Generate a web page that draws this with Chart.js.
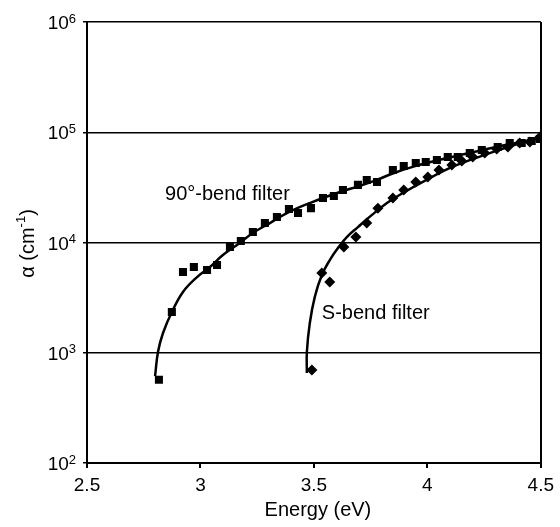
<!DOCTYPE html>
<html>
<head>
<meta charset="utf-8">
<script src="https://cdn.jsdelivr.net/npm/chart.js@4/dist/chart.umd.min.js"></script>
<style>
  body { margin: 0; background: #fff; }
</style>
</head>
<body>
<canvas id="grafico" width="560" height="527"></canvas>
<script>
// measured points, 90-degree bend filter
const bend90Energy = [2.817, 2.874, 2.923, 2.971, 3.029, 3.073, 3.13, 3.178, 3.231, 3.284, 3.337, 3.39, 3.43, 3.487, 3.54, 3.588, 3.628, 3.694, 3.733, 3.778, 3.848, 3.896, 3.949, 3.993, 4.042, 4.09, 4.134, 4.187, 4.24, 4.31, 4.363, 4.416, 4.46, 4.496];
const bend90Alpha = [570, 2340, 5400, 6000, 5640, 6250, 9100, 10300, 12450, 15000, 17000, 20100, 18500, 20500, 25300, 26400, 29900, 33300, 36900, 35400, 45500, 49500, 52600, 53700, 56000, 59700, 59700, 64900, 69000, 73500, 80000, 80000, 83400, 86900];

// measured points, S-bend filter
const sBendEnergy = [3.491, 3.535, 3.57, 3.632, 3.685, 3.733, 3.782, 3.848, 3.896, 3.949, 4.002, 4.051, 4.108, 4.152, 4.2, 4.253, 4.306, 4.355, 4.407, 4.452, 4.496];
const sBendAlpha = [697, 5280, 4380, 9100, 11200, 15000, 20500, 25300, 29900, 35400, 39300, 45500, 50400, 54800, 59700, 64900, 70500, 73500, 80000, 81700, 90600];

// fitted curves
const fit90Energy = [2.800, 2.813, 2.835, 2.874, 2.923, 2.985, 3.042, 3.099, 3.161, 3.231, 3.306, 3.381, 3.482, 3.615, 3.70, 3.778, 3.85, 3.95, 4.05, 4.15, 4.25, 4.35, 4.496];
const fit90Alpha = [615, 1020, 1510, 2340, 3560, 4860, 6000, 7700, 9500, 12200, 15000, 18500, 22800, 28700, 32500, 37000, 42500, 49500, 56000, 62500, 69500, 77000, 88000];
const fitSEnergy = [3.469, 3.469, 3.482, 3.504, 3.535, 3.570, 3.606, 3.645, 3.694, 3.756, 3.822, 3.892, 3.98, 4.1, 4.2, 4.3, 4.4, 4.496];
const fitSAlpha = [655, 1015, 1860, 3210, 5070, 6930, 8910, 11200, 13800, 17800, 22800, 28100, 35500, 47500, 57000, 67500, 78500, 90000];

// axes
const xTicks = [2.5, 3, 3.5, 4, 4.5];
const yTicks = [1e2, 1e3, 1e4, 1e5, 1e6];

const FONT = '"Liberation Sans", Arial, sans-serif';

const pares = (xs, ys) => xs.map((x, i) => ({ x, y: ys[i] }));

// text the library cannot do itself: superscripts and curve labels
const textos = {
  id: 'textos',
  afterDraw(chart) {
    const { ctx, scales: { x, y } } = chart;
    ctx.save();
    ctx.fillStyle = '#000';
    ctx.textBaseline = 'alphabetic';

    // y tick labels 10^n
    yTicks.forEach(v => {
      const py = y.getPixelForValue(v);
      const exp = String(Math.round(Math.log10(v)));
      ctx.textAlign = 'right';
      ctx.font = '13px ' + FONT;
      const supW = ctx.measureText(exp).width;
      const right = y.right - 11;
      ctx.fillText(exp, right, py + 0.5);
      ctx.font = '19px ' + FONT;
      ctx.fillText('10', right - supW, py + 7);
    });

    // y title: α (cm-1)
    ctx.save();
    ctx.translate(27, (y.top + y.bottom) / 2 + 1);
    ctx.rotate(-Math.PI / 2);
    ctx.textAlign = 'left';
    ctx.font = '20px ' + FONT;
    const a = 'α (cm', c = ')';
    const wa = ctx.measureText(a).width, wc = ctx.measureText(c).width;
    ctx.font = '13px ' + FONT;
    const wb = ctx.measureText('-1').width;
    let px = -(wa + wb + wc) / 2;
    ctx.font = '20px ' + FONT;
    ctx.fillText(a, px, 7);
    ctx.font = '13px ' + FONT;
    ctx.fillText('-1', px + wa, -2);
    ctx.font = '20px ' + FONT;
    ctx.fillText(c, px + wa + wb, 7);
    ctx.restore();

    // x title
    ctx.textAlign = 'center';
    ctx.font = '20px ' + FONT;
    ctx.fillText('Energy (eV)', (x.left + x.right) / 2 + 4, 516);

    // curve labels
    ctx.textAlign = 'left';
    ctx.font = '20px ' + FONT;
    ctx.fillText('90°-bend filter', x.getPixelForValue(2.844), y.getPixelForValue(28100) + 7);
    ctx.fillText('S-bend filter', x.getPixelForValue(3.535), y.getPixelForValue(2340) + 7);
    ctx.restore();
  }
};

const ctx = document.getElementById('grafico').getContext('2d');
const grafico = new Chart(ctx, {
  type: 'scatter',
  data: {
    datasets: [
      {
        label: 'fit 90',
        data: pares(fit90Energy, fit90Alpha),
        showLine: true,
        borderColor: '#000',
        borderWidth: 2.5,
        pointRadius: 0,
        tension: 0.4,
        order: 2
      },
      {
        label: 'fit S',
        data: pares(fitSEnergy, fitSAlpha),
        showLine: true,
        borderColor: '#000',
        borderWidth: 2.5,
        pointRadius: 0,
        tension: 0.4,
        order: 2
      },
      {
        label: '90°-bend filter',
        data: pares(bend90Energy, bend90Alpha),
        pointStyle: 'rect',
        pointRadius: 5.7,
        backgroundColor: '#000',
        borderColor: '#000',
        borderWidth: 0,
        order: 1
      },
      {
        label: 'S-bend filter',
        data: pares(sBendEnergy, sBendAlpha),
        pointStyle: 'rectRot',
        pointRadius: 5.5,
        backgroundColor: '#000',
        borderColor: '#000',
        borderWidth: 0,
        order: 1
      }
    ]
  },
  options: {
    responsive: false,
    animation: false,
    devicePixelRatio: 1,
    layout: { padding: { left: 0, top: 22, right: 19, bottom: 0 } },
    plugins: {
      legend: { display: false },
      tooltip: { enabled: false }
    },
    scales: {
      x: {
        type: 'linear',
        min: 2.5,
        max: 4.5,
        afterBuildTicks: s => { s.ticks = xTicks.map(v => ({ value: v })); },
        afterFit: s => { s.height = 64; },
        grid: {
          color: c => (c.tick && c.tick.value === 4.5 ? '#000' : 'rgba(0,0,0,0)'),
          lineWidth: 2,
          tickColor: '#000',
          tickLength: 5
        },
        border: { color: '#000', width: 2 },
        ticks: {
          color: '#000',
          font: { family: FONT, size: 19 },
          padding: 6,
          maxRotation: 0,
          callback: v => String(v)
        }
      },
      y: {
        type: 'logarithmic',
        min: 1e2,
        max: 1e6,
        afterBuildTicks: s => { s.ticks = yTicks.map(v => ({ value: v })); },
        afterFit: s => { s.width = 87; },
        grid: { color: '#000', lineWidth: 1.5, tickColor: '#000', tickLength: 4 },
        border: { color: '#000', width: 2 },
        ticks: { display: false }
      }
    }
  },
  plugins: [textos]
});
</script>
</body>
</html>
